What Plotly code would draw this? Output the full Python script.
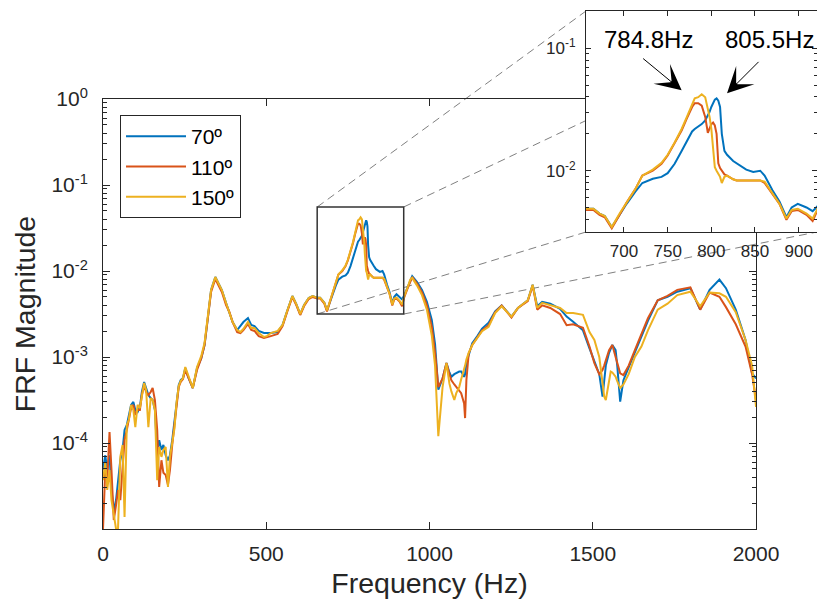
import math
import plotly.graph_objects as go

# ---------------- data ----------------
freq_hz = [
    0, 7, 13, 20, 26, 33, 40, 46, 53, 60, 66, 73, 79, 86, 93, 99, 106, 113, 119, 126,
    132, 139, 146, 152, 159, 166, 172, 179, 185, 192, 199, 205, 212, 219, 225, 232, 238, 245, 252, 262,
    275, 288, 301, 311, 321, 331, 344,
    354, 364, 377, 387, 397, 411, 421, 430, 444, 454, 464, 477, 493, 502, 514, 535, 550, 565, 580, 592,
    604, 616, 630, 642,
    656, 665, 672, 678, 686, 695, 703, 713, 721, 733, 743, 750, 758, 766, 772, 778, 781, 785, 789, 793,
    796, 798, 800, 802, 804, 806, 808, 810, 812, 815, 818, 825, 829, 836, 840, 848, 856, 861, 870, 878,
    886, 892, 899, 909, 916,
    923, 932, 941, 947, 962, 977, 992, 1007, 1017, 1027, 1040, 1052, 1061, 1067, 1076, 1082, 1091, 1097,
    1106, 1109, 1113, 1120, 1131, 1146, 1161, 1181, 1201, 1221, 1251, 1271, 1301, 1316, 1330, 1345, 1370,
    1400, 1420, 1440, 1470, 1490, 1505, 1520, 1530, 1535, 1540, 1550, 1555, 1560, 1570, 1575, 1584, 1594,
    1610, 1629, 1649, 1669, 1699, 1729, 1759, 1799, 1829, 1858, 1888, 1908, 1938, 1968, 1988, 2000,
]

mag_70 = [
    4.85e-5, 7.2e-5, 4.85e-5, 7.2e-5, 2.84e-5, 1.66e-5, 2.17e-5, 3.7e-5, 6.3e-5, 8.3e-5,
    1.42e-4, 1.62e-4, 2.12e-4, 2.77e-4, 3.0e-4, 2.42e-4, 2.29e-4, 2.62e-4, 3.92e-4, 5.12e-4,
    4.36e-4, 3.61e-4, 3.33e-4, 3.16e-4, 2.42e-4, 7.65e-5, 1.08e-4, 8.3e-5, 9.5e-5, 7.2e-5,
    6.3e-5, 7.2e-5, 1.08e-4, 1.85e-4, 3.16e-4, 4.72e-4, 5.4e-4, 5.7e-4, 7.45e-4, 5.7e-4,
    4.36e-4, 7.45e-4, 9.7e-4, 1.38e-3, 2.84e-3, 6.01e-3, 8.5e-3,
    7.24e-3, 6.01e-3, 4.25e-3, 3.34e-3, 2.55e-3, 2.06e-3, 2.29e-3, 2.55e-3, 2.84e-3, 2.36e-3,
    2.29e-3, 2.01e-3, 1.90e-3, 1.90e-3, 1.90e-3, 1.95e-3, 2.36e-3, 3.52e-3, 5.12e-3, 4.13e-3,
    3.16e-3, 4.02e-3, 4.85e-3, 5.12e-3,
    4.90e-3, 4.90e-3, 4.47e-3, 4.27e-3, 3.47e-3, 4.37e-3, 5.37e-3, 6.76e-3, 7.94e-3, 8.59e-3,
    8.91e-3, 9.55e-3, 1.14e-2, 1.45e-2, 1.74e-2, 2.09e-2, 2.19e-2, 2.29e-2, 2.40e-2, 2.57e-2,
    2.82e-2, 3.02e-2, 3.31e-2, 3.55e-2, 3.80e-2, 3.89e-2, 3.72e-2, 3.31e-2, 2.00e-2, 1.45e-2,
    1.35e-2, 1.20e-2, 1.15e-2, 1.05e-2, 1.02e-2, 9.77e-3, 1.00e-2, 9.12e-3, 6.92e-3, 5.62e-3,
    4.17e-3, 5.01e-3, 5.37e-3, 5.01e-3, 4.68e-3,
    5.25e-3, 6.31e-3, 7.94e-3, 8.71e-3, 7.41e-3, 6.03e-3, 4.37e-3, 2.69e-3, 1.41e-3, 4.17e-4,
    5.62e-4, 8.51e-4, 6.61e-4, 5.89e-4, 6.31e-4, 6.46e-4, 6.76e-4, 6.76e-4, 5.89e-4, 6.31e-4,
    8.51e-4, 1.05e-3, 1.45e-3, 1.74e-3, 2.14e-3, 2.51e-3, 3.39e-3, 3.98e-3, 2.95e-3, 3.72e-3,
    4.57e-3, 6.92e-3, 3.89e-3, 4.37e-3, 4.17e-3, 3.63e-3, 2.95e-3, 2.57e-3, 2.04e-3, 1.26e-3,
    8.91e-4, 6.31e-4, 3.47e-4, 5.01e-4, 7.94e-4, 1.12e-3, 1.26e-3, 1.38e-3, 1.20e-3, 7.94e-4,
    3.02e-4, 5.37e-4, 7.59e-4, 1.12e-3, 1.74e-3, 2.63e-3, 4.57e-3, 5.01e-3, 5.75e-3, 6.31e-3,
    3.55e-3, 6.03e-3, 7.94e-3, 6.31e-3, 3.55e-3, 1.58e-3, 6.46e-4, 5.62e-4,
]

mag_110 = [
    1.0e-5, 4.85e-5, 3.7e-5, 1.34e-4, 4.85e-5, 1.27e-5, 1.9e-5, 2.84e-5, 2.17e-5, 5.5e-5,
    1.08e-4, 1.42e-4, 1.85e-4, 2.55e-4, 2.77e-4, 2.12e-4, 2.42e-4, 2.42e-4, 3.61e-4, 4.72e-4,
    3.92e-4, 3.61e-4, 3.92e-4, 4.36e-4, 3.16e-4, 1.42e-4, 3.08e-5, 6.3e-5, 4.5e-5, 4.25e-5,
    3.25e-5, 4.85e-5, 9.5e-5, 1.62e-4, 2.77e-4, 4.48e-4, 5.12e-4, 5.55e-4, 7.06e-4, 5.7e-4,
    4.36e-4, 7.06e-4, 9.7e-4, 1.38e-3, 2.69e-3, 5.7e-3, 8.07e-3,
    6.87e-3, 5.70e-3, 4.02e-3, 3.34e-3, 2.55e-3, 1.95e-3, 1.90e-3, 2.06e-3, 2.42e-3, 2.06e-3,
    2.01e-3, 1.75e-3, 1.66e-3, 1.71e-3, 1.75e-3, 1.85e-3, 2.29e-3, 3.43e-3, 4.99e-3, 4.02e-3,
    3.08e-3, 3.92e-3, 4.72e-3, 4.99e-3,
    4.79e-3, 4.79e-3, 4.37e-3, 4.17e-3, 3.39e-3, 4.37e-3, 5.50e-3, 7.08e-3, 9.12e-3, 1.00e-2,
    1.14e-2, 1.33e-2, 1.66e-2, 2.13e-2, 2.67e-2, 3.31e-2, 3.55e-2, 3.55e-2, 3.39e-2, 2.75e-2,
    2.04e-2, 2.19e-2, 2.40e-2, 2.47e-2, 2.34e-2, 2.00e-2, 1.15e-2, 1.05e-2, 1.00e-2, 9.33e-3,
    9.12e-3, 8.51e-3, 8.32e-3, 8.32e-3, 8.32e-3, 8.32e-3, 8.32e-3, 7.94e-3, 6.46e-3, 5.37e-3,
    3.98e-3, 4.68e-3, 4.79e-3, 4.37e-3, 3.89e-3,
    5.01e-3, 6.17e-3, 7.76e-3, 8.51e-3, 7.08e-3, 5.62e-3, 3.98e-3, 2.24e-3, 1.12e-3, 4.47e-4,
    5.62e-4, 8.51e-4, 6.31e-4, 5.37e-4, 4.79e-4, 4.47e-4, 3.98e-4, 3.80e-4, 2.88e-4, 1.95e-4,
    5.37e-4, 1.10e-3, 1.38e-3, 1.66e-3, 2.04e-3, 2.34e-3, 3.31e-3, 3.98e-3, 2.88e-3, 3.72e-3,
    4.47e-3, 6.76e-3, 3.55e-3, 3.98e-3, 3.72e-3, 3.16e-3, 2.34e-3, 2.40e-3, 2.19e-3, 1.32e-3,
    8.51e-4, 6.31e-4, 7.08e-4, 7.94e-4, 9.33e-4, 1.20e-3, 1.29e-3, 1.38e-3, 1.00e-3, 8.51e-4,
    6.46e-4, 6.17e-4, 7.94e-4, 1.20e-3, 1.82e-3, 2.82e-3, 4.57e-3, 5.13e-3, 6.03e-3, 6.46e-3,
    3.55e-3, 5.62e-3, 5.01e-3, 3.80e-3, 2.40e-3, 1.32e-3, 6.31e-4, 3.16e-4,
]

mag_150 = [
    3.7e-5, 6.0e-5, 2.84e-5, 4.85e-5, 2.17e-5, 1.46e-5, 1.0e-5, 1.0e-5, 6.9e-5, 9.5e-5,
    1.38e-5, 1.62e-4, 1.85e-4, 2.77e-4, 2.42e-4, 1.53e-4, 2.77e-4, 2.55e-4, 3.61e-4, 4.99e-4,
    4.13e-4, 1.53e-4, 3.33e-4, 3.16e-4, 2.42e-4, 3.7e-5, 9.0e-5, 6.9e-5, 8.3e-5, 9.0e-5,
    3.08e-5, 6.9e-5, 1.0e-4, 1.49e-4, 2.92e-4, 4.6e-4, 5.26e-4, 5.7e-4, 7.65e-4, 5.85e-4,
    4.36e-4, 7.65e-4, 1.03e-3, 1.46e-3, 2.84e-3, 6.01e-3, 8.5e-3,
    7.24e-3, 6.01e-3, 4.25e-3, 3.34e-3, 2.55e-3, 2.06e-3, 1.95e-3, 2.12e-3, 2.55e-3, 2.17e-3,
    2.17e-3, 1.90e-3, 1.71e-3, 1.75e-3, 1.90e-3, 2.01e-3, 2.36e-3, 3.52e-3, 5.12e-3, 4.13e-3,
    3.16e-3, 4.02e-3, 4.85e-3, 5.12e-3,
    4.90e-3, 4.90e-3, 4.47e-3, 4.27e-3, 3.47e-3, 4.47e-3, 5.50e-3, 7.08e-3, 9.12e-3, 1.02e-2,
    1.16e-2, 1.35e-2, 1.70e-2, 2.19e-2, 2.75e-2, 3.47e-2, 3.89e-2, 3.98e-2, 4.20e-2, 3.98e-2,
    3.16e-2, 2.75e-2, 2.19e-2, 1.58e-2, 1.07e-2, 1.00e-2, 9.55e-3, 8.91e-3, 7.94e-3, 8.91e-3,
    9.12e-3, 8.51e-3, 8.32e-3, 8.32e-3, 8.32e-3, 8.32e-3, 8.32e-3, 8.13e-3, 6.46e-3, 5.37e-3,
    4.07e-3, 4.79e-3, 4.90e-3, 4.47e-3, 4.07e-3,
    5.13e-3, 6.31e-3, 7.94e-3, 8.32e-3, 6.76e-3, 5.25e-3, 3.55e-3, 1.78e-3, 7.94e-4, 1.2e-4,
    4.47e-4, 8.51e-4, 4.90e-4, 3.98e-4, 3.16e-4, 3.80e-4, 4.47e-4, 5.50e-4, 7.08e-4, 7.94e-4,
    9.33e-4, 1.12e-3, 1.38e-3, 1.66e-3, 2.00e-3, 2.24e-3, 3.24e-3, 3.89e-3, 2.95e-3, 3.72e-3,
    4.57e-3, 6.92e-3, 3.72e-3, 4.27e-3, 3.98e-3, 3.72e-3, 3.24e-3, 3.24e-3, 3.09e-3, 1.95e-3,
    1.58e-3, 1.00e-3, 5.01e-4, 3.47e-4, 3.16e-4, 5.37e-4, 6.76e-4, 6.61e-4, 5.89e-4, 5.25e-4,
    4.37e-4, 4.79e-4, 6.31e-4, 1.00e-3, 1.32e-3, 2.04e-3, 3.55e-3, 4.17e-3, 5.25e-3, 5.75e-3,
    3.89e-3, 5.62e-3, 5.50e-3, 5.01e-3, 3.31e-3, 1.58e-3, 7.94e-4, 2.63e-4,
]

series_names = ["70º", "110º", "150º"]
series_values = [mag_70, mag_110, mag_150]
series_colors = ["#0072BD", "#D95319", "#EDB120"]

x_tick_vals = [0, 500, 1000, 1500, 2000]
y_tick_vals = [1e-4, 1e-3, 1e-2, 1e-1, 1e0]
y_tick_text = ["10<sup>-4</sup>", "10<sup>-3</sup>", "10<sup>-2</sup>", "10<sup>-1</sup>", "10<sup>0</sup>"]
inset_x_tick_vals = [700, 750, 800, 850, 900]
inset_y_tick_vals = [1e-2, 1e-1]
inset_y_tick_text = ["10<sup>-2</sup>", "10<sup>-1</sup>"]

zoom_box_x = [656, 921]
zoom_box_y = [3.16e-3, 5.55e-2]
inset_x_range = [656.5, 921]
inset_y_range_log = [-2.5, -0.697]

peak_labels = ["784.8Hz", "805.5Hz"]
peak_label_pos = [(727.5, -0.926), (867, -0.926)]
arrow_tips = [(766, -1.344), (818, -1.369)]
arrow_tails_px = [(-40, -33), (33, -33)]

for s in series_values:
    assert len(s) == len(freq_hz), (len(s), len(freq_hz))

# ---------------- layout geometry ----------------
W, H = 817, 606
main_dom_x = [103 / W, 756 / W]
main_dom_y = [1 - 529 / H, 1 - 99 / H]
inset_dom_x = [586 / W, 1.0]
inset_dom_y = [1 - 232 / H, 1 - 11 / H]
main_x_range = [0, 2000]
main_y_range_log = [-5, 0]

axis_color = "#262626"
font_family = "Liberation Sans, Arial, Helvetica, sans-serif"

fig = go.Figure()
for name, vals, col in zip(series_names, series_values, series_colors):
    fig.add_trace(go.Scatter(x=freq_hz, y=vals, mode="lines", name=name,
                             line=dict(color=col, width=2), xaxis="x", yaxis="y"))
for name, vals, col in zip(series_names, series_values, series_colors):
    fig.add_trace(go.Scatter(x=freq_hz, y=vals, mode="lines", name=name, showlegend=False,
                             line=dict(color=col, width=2), xaxis="x2", yaxis="y2"))

main_minor = [k * 10.0 ** e for e in range(-5, 0) for k in range(2, 10)]
inset_minor = [k * 10.0 ** e for e in range(-3, 0) for k in range(2, 10)]

common_axis = dict(showline=True, linecolor=axis_color, linewidth=1, mirror="ticks",
                   ticks="inside", tickcolor=axis_color, showgrid=False, zeroline=False,
                   automargin=False)

fig.update_layout(
    template="none",
    width=W, height=H,
    margin=dict(l=0, r=0, t=0, b=0, pad=0),
    paper_bgcolor="white", plot_bgcolor="white",
    font=dict(family=font_family, color=axis_color),
    xaxis=dict(domain=main_dom_x, anchor="y", range=main_x_range, tickvals=x_tick_vals,
               ticklen=7, tickfont=dict(size=21, color=axis_color), ticklabelstandoff=6,
               title=dict(text="Frequency (Hz)", font=dict(size=28.5, color=axis_color), standoff=8),
               **common_axis),
    yaxis=dict(domain=main_dom_y, anchor="x", type="log", range=main_y_range_log,
               tickvals=y_tick_vals, ticktext=y_tick_text, ticklen=7,
               tickfont=dict(size=21, color=axis_color), ticklabelstandoff=10,
               minor=dict(tickvals=main_minor, ticks="inside", ticklen=4, tickcolor=axis_color),
               title=dict(text="FRF Magnitude", font=dict(size=28.5, color=axis_color), standoff=7),
               **common_axis),
    xaxis2=dict(domain=inset_dom_x, anchor="y2", range=inset_x_range, tickvals=inset_x_tick_vals,
                ticklen=5, tickfont=dict(size=17, color=axis_color), ticklabelstandoff=4,
                **common_axis),
    yaxis2=dict(domain=inset_dom_y, anchor="x2", type="log", range=inset_y_range_log,
                tickvals=inset_y_tick_vals, ticktext=inset_y_tick_text, ticklen=5,
                tickfont=dict(size=17, color=axis_color), ticklabelstandoff=6,
                minor=dict(tickvals=inset_minor, ticks="inside", ticklen=3, tickcolor=axis_color),
                **common_axis),
    legend=dict(x=120 / W, y=1 - 115 / H, xanchor="left", yanchor="top",
                bgcolor="white", bordercolor=axis_color, borderwidth=1,
                font=dict(size=21, color="black"), itemwidth=60, tracegroupgap=0),
    showlegend=True,
)

# zoom rectangle on main axes
fig.add_shape(type="rect", xref="x", yref="y",
              x0=zoom_box_x[0], x1=zoom_box_x[1], y0=zoom_box_y[0], y1=zoom_box_y[1],
              line=dict(color="#333333", width=1.5), layer="above")


def main_to_paper(xv, yv):
    px = main_dom_x[0] + (xv - main_x_range[0]) / (main_x_range[1] - main_x_range[0]) * (main_dom_x[1] - main_dom_x[0])
    ly = math.log10(yv)
    py = main_dom_y[0] + (ly - main_y_range_log[0]) / (main_y_range_log[1] - main_y_range_log[0]) * (main_dom_y[1] - main_dom_y[0])
    return px, py


corners_box = [(zoom_box_x[0], zoom_box_y[1]), (zoom_box_x[1], zoom_box_y[1]),
               (zoom_box_x[0], zoom_box_y[0]), (zoom_box_x[1], zoom_box_y[0])]
corners_inset = [(inset_dom_x[0], inset_dom_y[1]), (inset_dom_x[1], inset_dom_y[1]),
                 (inset_dom_x[0], inset_dom_y[0]), (inset_dom_x[1], inset_dom_y[0])]
for (bx, by), (ix, iy) in zip(corners_box, corners_inset):
    x0, y0 = main_to_paper(bx, by)
    fig.add_shape(type="line", xref="paper", yref="paper", x0=x0, y0=y0, x1=ix, y1=iy,
                  line=dict(color="#808080", width=1, dash="8px,5px"), layer="below")

# peak annotations in the inset
for text, (lx, ly) in zip(peak_labels, peak_label_pos):
    fig.add_annotation(xref="x2", yref="y2", x=lx, y=ly, text=text, showarrow=False,
                       font=dict(size=24, color="black"))
for (tx, ty), (ax, ay) in zip(arrow_tips, arrow_tails_px):
    fig.add_annotation(xref="x2", yref="y2", x=tx, y=ty, text="", showarrow=True,
                       ax=ax, ay=ay, arrowhead=3, arrowsize=4.3, arrowwidth=1,
                       arrowcolor="black")

fig.write_html("out.html")
